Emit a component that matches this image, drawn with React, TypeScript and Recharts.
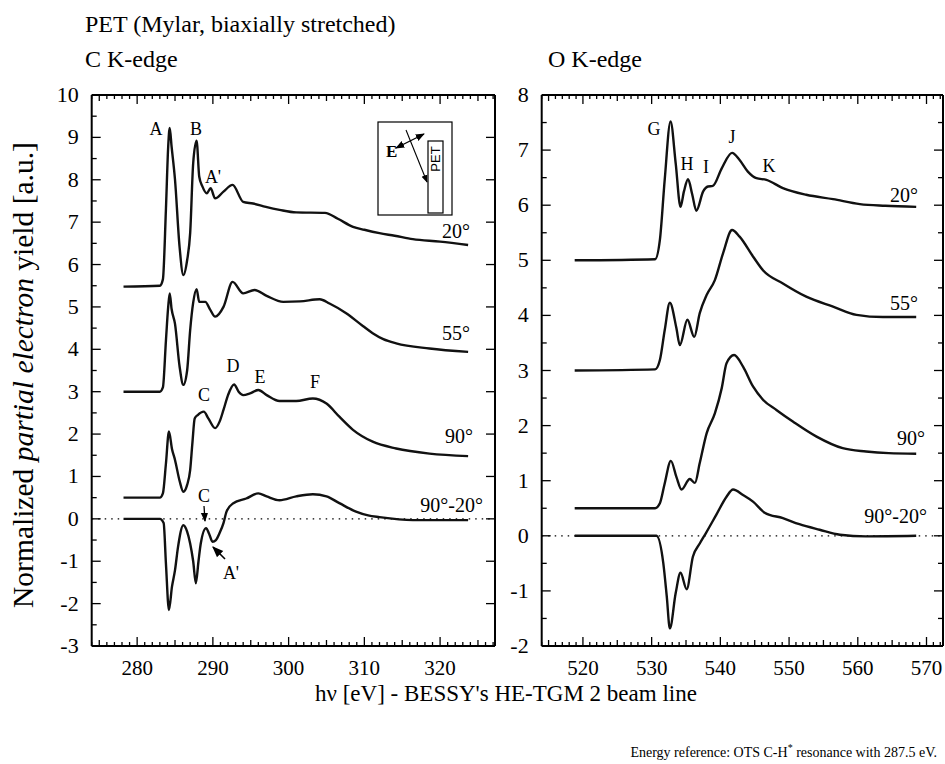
import React from 'react';
import { Line, LineChart, ReferenceLine, XAxis, YAxis } from 'recharts';

// C K-edge, photon energy [eV] and normalized yield per angle
const cE20 = [278.2, 283.0, 283.4, 283.8, 284.1, 284.3, 284.55, 285.0, 285.6, 286.1, 286.6, 287.0, 287.4, 287.85, 288.2, 288.6, 289.2, 289.7, 290.3, 291.4, 292.6, 294.0, 295.3, 297.0, 298.8, 301.0, 304.8, 306.5, 308.5, 310.0, 312.0, 314.0, 316.4, 320.0, 323.7];
const c20 = [5.48, 5.5, 5.65, 7.3, 8.78, 9.22, 8.78, 8.0, 6.42, 5.75, 6.1, 6.74, 8.39, 8.92, 8.07, 7.85, 7.68, 7.8, 7.56, 7.72, 7.88, 7.48, 7.44, 7.36, 7.29, 7.23, 7.22, 7.08, 6.89, 6.82, 6.74, 6.68, 6.6, 6.54, 6.46];

const cE55 = [278.2, 283.0, 283.4, 283.8, 284.1, 284.3, 284.55, 285.0, 285.6, 286.1, 286.6, 287.0, 287.4, 287.85, 288.2, 289.0, 289.6, 290.3, 291.4, 292.6, 294.0, 295.5, 297.1, 299.3, 301.5, 304.1, 305.4, 307.6, 309.8, 311.1, 312.5, 314.2, 318.6, 323.7];
const c55 = [3.0, 3.0, 3.1, 4.2, 5.0, 5.32, 4.95, 4.6, 3.6, 3.16, 3.5, 4.45, 5.1, 5.42, 5.12, 5.12, 4.95, 4.77, 5.0, 5.59, 5.32, 5.4, 5.26, 5.12, 5.13, 5.18, 5.08, 4.85, 4.55, 4.38, 4.24, 4.14, 4.02, 3.94];

const cE90 = [278.2, 283.0, 283.4, 283.8, 284.2, 284.6, 285.0, 285.6, 286.1, 286.6, 287.0, 287.3, 287.6, 288.0, 288.8, 289.4, 290.3, 290.9, 291.4, 292.0, 292.8, 293.4, 294.0, 294.9, 296.0, 297.1, 298.8, 301.0, 303.2, 305.0, 306.7, 308.5, 311.1, 314.2, 318.6, 323.7];
const c90 = [0.5, 0.5, 0.6, 1.3, 2.06, 1.65, 1.39, 0.9, 0.64, 0.8, 1.15, 1.8, 2.37, 2.45, 2.53, 2.37, 2.14, 2.3, 2.57, 2.92, 3.17, 3.0, 2.92, 2.96, 3.04, 2.92, 2.78, 2.78, 2.84, 2.72, 2.41, 2.1, 1.82, 1.66, 1.54, 1.48];

const cEd = [278.2, 283.0, 283.5, 283.8, 284.2, 284.6, 285.0, 285.4, 286.1, 286.6, 287.0, 287.4, 287.75, 288.1, 288.4, 289.1, 289.5, 289.95, 290.4, 290.9, 291.4, 291.8, 292.7, 294.4, 296.0, 297.1, 298.8, 301.0, 303.2, 305.0, 306.7, 308.9, 310.5, 312.0, 316.4, 323.7];
const cd = [0.0, 0.0, -0.1, -1.05, -2.15, -1.6, -1.21, -0.66, -0.15, -0.3, -0.58, -1.0, -1.52, -1.0, -0.58, -0.22, -0.35, -0.54, -0.5, -0.33, -0.1, 0.17, 0.37, 0.48, 0.6, 0.53, 0.44, 0.53, 0.58, 0.53, 0.37, 0.17, 0.08, 0.04, -0.03, -0.03];

// O K-edge
const oE20 = [518.8, 530.5, 531.2, 531.9, 532.75, 533.5, 534.2, 534.7, 535.3, 535.9, 536.5, 537.5, 538.2, 538.9, 540.2, 541.7, 542.8, 544.0, 545.25, 546.7, 549.1, 552.5, 556.4, 560.3, 564.0, 568.5];
const o20 = [5.0, 5.02, 5.37, 6.46, 7.52, 6.76, 5.97, 6.25, 6.47, 6.2, 5.9, 6.25, 6.34, 6.35, 6.67, 6.95, 6.82, 6.61, 6.49, 6.46, 6.31, 6.19, 6.11, 6.02, 5.99, 5.97];

const oE55 = [518.8, 530.5, 531.2, 531.9, 532.65, 533.6, 534.1, 535.2, 536.2, 537.0, 538.0, 539.2, 540.4, 541.7, 542.8, 544.75, 546.2, 549.1, 552.5, 556.4, 559.8, 563.65, 568.5];
const o55 = [3.0, 3.02, 3.19, 3.73, 4.23, 3.77, 3.46, 3.92, 3.61, 4.04, 4.37, 4.64, 5.13, 5.55, 5.43, 5.07, 4.82, 4.58, 4.34, 4.16, 4.01, 3.97, 3.97];

const oE90 = [518.8, 530.5, 531.2, 531.9, 532.8, 533.6, 534.35, 535.55, 536.3, 537.0, 538.0, 539.2, 540.2, 540.9, 542.0, 543.3, 544.75, 546.2, 548.2, 550.6, 554.0, 557.8, 561.2, 564.5, 568.5];
const o90 = [0.5, 0.5, 0.59, 0.95, 1.36, 1.07, 0.84, 1.03, 0.96, 1.32, 1.86, 2.22, 2.68, 3.13, 3.28, 3.07, 2.71, 2.47, 2.28, 2.07, 1.8, 1.59, 1.53, 1.5, 1.49];

const oEd = [518.8, 530.7, 531.7, 532.2, 532.65, 533.5, 534.2, 535.1, 536.0, 537.0, 537.9, 539.4, 540.9, 541.85, 543.3, 544.75, 546.45, 549.1, 551.5, 554.45, 557.4, 561.2, 568.5];
const od = [0.0, 0.0, -0.5, -1.1, -1.68, -1.04, -0.67, -0.97, -0.38, -0.14, 0.05, 0.38, 0.71, 0.84, 0.74, 0.62, 0.42, 0.32, 0.21, 0.11, 0.02, -0.01, 0.0];

const cXLabels = [280, 290, 300, 310, 320];
const oXLabels = [520, 530, 540, 550, 560, 570];
const cYLabels = [-3, -2, -1, 0, 1, 2, 3, 4, 5, 6, 7, 8, 9, 10];
const oYLabels = [-2, -1, 0, 1, 2, 3, 4, 5, 6, 7, 8];

const FONT = '"Liberation Serif", "Times New Roman", serif';
const W = 945;
const H = 764;

const zip = (xs: number[], ys: number[]) => xs.map((e, i) => ({ e, v: ys[i] }));
const steps = (from: number, to: number, step: number) => {
  const out: number[] = [];
  for (let v = from; v <= to + 1e-9; v += step) out.push(Math.round(v * 10) / 10);
  return out;
};

const XTick = (props: any) => {
  const { x, y, payload, top, labels } = props;
  const v = Math.round(payload.value);
  const len = v % 10 === 0 ? 9 : v % 5 === 0 ? 6 : 4;
  const dir = top ? 1 : -1;
  return (
    <g>
      <line x1={x} x2={x} y1={y} y2={y + dir * len} stroke="#000" strokeWidth={1.3} />
      {!top && labels.includes(v) && (
        <text x={x} y={y + 29} textAnchor="middle" fontSize={21} fontFamily={FONT} fill="#000">
          {v}
        </text>
      )}
    </g>
  );
};

const YTick = (props: any) => {
  const { x, y, payload, right, labels } = props;
  const v = payload.value;
  const whole = Math.abs(v - Math.round(v)) < 1e-6;
  const len = whole ? 9 : 5;
  const dir = right ? -1 : 1;
  return (
    <g>
      <line x1={x} x2={x + dir * len} y1={y} y2={y} stroke="#000" strokeWidth={1.3} />
      {!right && whole && labels.includes(Math.round(v)) && (
        <text x={x - 13} y={y + 7} textAnchor="end" fontSize={22} fontFamily={FONT} fill="#000">
          {Math.round(v)}
        </text>
      )}
    </g>
  );
};

interface PanelProps {
  series: Array<{ e: number; v: number }[]>;
  xDomain: [number, number];
  yDomain: [number, number];
  xLabels: number[];
  yLabels: number[];
  rightStep: number;
  box: { top: number; left: number; right: number; bottom: number };
}

const Panel = ({ series, xDomain, yDomain, xLabels, yLabels, rightStep, box }: PanelProps) => {
  const xTicks = steps(Math.ceil(xDomain[0]), Math.floor(xDomain[1]), 1);
  const yLeft = steps(yDomain[0], yDomain[1], 0.5);
  const yRight = steps(yDomain[0], yDomain[1], rightStep);
  const axis = { stroke: '#000', strokeWidth: 2 };
  // every axis is 1px thick, so the margins are one pixel short of the plot box
  const margin = { top: box.top - 1, left: box.left - 1, right: W - box.right - 1, bottom: H - box.bottom - 1 };
  return (
    <div style={{ position: 'absolute', left: 0, top: 0 }}>
      <LineChart width={W} height={H} margin={margin}>
        <XAxis xAxisId="b" dataKey="e" type="number" domain={xDomain} allowDataOverflow ticks={xTicks} interval={0}
          height={1} tickSize={0} tickMargin={0} tickLine={false} axisLine={axis}
          tick={(p: any) => <XTick {...p} labels={xLabels} />} />
        <XAxis xAxisId="t" orientation="top" dataKey="e" type="number" domain={xDomain} allowDataOverflow ticks={xTicks} interval={0}
          height={1} tickSize={0} tickMargin={0} tickLine={false} axisLine={axis}
          tick={(p: any) => <XTick {...p} top labels={xLabels} />} />
        <YAxis yAxisId="l" type="number" domain={yDomain} allowDataOverflow ticks={yLeft} interval={0}
          width={1} tickSize={0} tickMargin={0} tickLine={false} axisLine={axis}
          tick={(p: any) => <YTick {...p} labels={yLabels} />} />
        <YAxis yAxisId="r" orientation="right" type="number" domain={yDomain} allowDataOverflow ticks={yRight} interval={0}
          width={1} tickSize={0} tickMargin={0} tickLine={false} axisLine={axis}
          tick={(p: any) => <YTick {...p} right labels={yLabels} />} />
        <ReferenceLine xAxisId="b" yAxisId="l" y={0} stroke="#000" strokeWidth={1.2} strokeDasharray="1.5 5" />
        {series.map((d, i) => (
          <Line key={i} xAxisId="b" yAxisId="l" data={d} dataKey="v" type="monotone" stroke="#111"
            strokeWidth={2.4} dot={false} activeDot={false} isAnimationActive={false} />
        ))}
      </LineChart>
    </div>
  );
};

const txt = { fontFamily: FONT, fill: '#000' };

const Notes = () => (
  <svg width={W} height={H} style={{ position: 'absolute', left: 0, top: 0 }}>
    <g style={txt} fontSize={24}>
      <text x={85} y={32}>PET (Mylar, biaxially stretched)</text>
      <text x={85} y={67}>C K-edge</text>
      <text x={548} y={67}>O K-edge</text>
      <text x={506} y={701} textAnchor="middle" fontSize={23}>hν [eV] - BESSY's HE-TGM 2 beam line</text>
    </g>
    <text x={937} y={757} textAnchor="end" fontSize={14} style={txt}>
      Energy reference: OTS C-H<tspan dy={-6} fontSize={10}>*</tspan><tspan dy={6}> resonance with 287.5 eV.</tspan>
    </text>
    <text transform="translate(33 375) rotate(-90)" textAnchor="middle" fontSize={29.5} style={txt}>
      Normalized <tspan fontStyle="italic">partial electron</tspan> yield  [a.u.]
    </text>
    <g style={txt} fontSize={20}>
      <text x={470} y={238} textAnchor="end">20°</text>
      <text x={470} y={340} textAnchor="end">55°</text>
      <text x={473} y={443} textAnchor="end">90°</text>
      <text x={483} y={512} textAnchor="end">90°-20°</text>
      <text x={918} y={202} textAnchor="end">20°</text>
      <text x={918} y={310} textAnchor="end">55°</text>
      <text x={925} y={445} textAnchor="end">90°</text>
      <text x={927} y={523} textAnchor="end">90°-20°</text>
    </g>
    <g style={txt} fontSize={18} textAnchor="middle">
      <text x={156} y={135}>A</text>
      <text x={196} y={135}>B</text>
      <text x={213} y={183}>A'</text>
      <text x={204} y={401}>C</text>
      <text x={233} y={372}>D</text>
      <text x={260} y={383}>E</text>
      <text x={315} y={388}>F</text>
      <text x={204} y={502}>C</text>
      <text x={231} y={579}>A'</text>
      <text x={654} y={135}>G</text>
      <text x={687} y={170}>H</text>
      <text x={706} y={173}>I</text>
      <text x={732} y={143}>J</text>
      <text x={769} y={172}>K</text>
    </g>
    <defs>
      <marker id="ah" viewBox="0 0 10 10" refX="9" refY="5" markerWidth="7" markerHeight="7" orient="auto-start-reverse">
        <path d="M0,1 L10,5 L0,9 z" fill="#000" />
      </marker>
    </defs>
    <line x1={204} y1={506} x2={205} y2={521} stroke="#000" strokeWidth={1.3} markerEnd="url(#ah)" />
    <line x1={225} y1={559} x2={213} y2={547} stroke="#000" strokeWidth={1.6} markerEnd="url(#ah)" />
    <rect x={378} y={122} width={74} height={93} fill="none" stroke="#000" strokeWidth={1.2} />
    <text x={386} y={157} fontSize={17} fontWeight="bold" style={txt}>E</text>
    <line x1={396} y1={148} x2={424} y2={134} stroke="#000" strokeWidth={1.3} markerStart="url(#ah)" markerEnd="url(#ah)" />
    <line x1={406} y1={130} x2={427} y2={182} stroke="#000" strokeWidth={1.1} markerEnd="url(#ah)" />
    <rect x={428} y={141} width={15} height={72} fill="#fff" stroke="#000" strokeWidth={1.2} />
    <text transform="translate(440 159) rotate(-90)" textAnchor="middle" fontSize={13} fontFamily="Liberation Sans, Arial" fill="#000">PET</text>
  </svg>
);

const App = () => {
  const cSeries = [zip(cE20, c20), zip(cE55, c55), zip(cE90, c90), zip(cEd, cd)];
  const oSeries = [zip(oE20, o20), zip(oE55, o55), zip(oE90, o90), zip(oEd, od)];
  return (
    <div style={{ position: 'absolute', left: 0, top: 0, width: W, height: H, background: '#fff' }}>
      <Panel series={cSeries} xDomain={[274, 327.25]} yDomain={[-3, 10]} xLabels={cXLabels} yLabels={cYLabels}
        rightStep={1} box={{ top: 95, left: 91.7, right: 495, bottom: 646 }} />
      <Panel series={oSeries} xDomain={[514, 572.4]} yDomain={[-2, 8]} xLabels={oXLabels} yLabels={oYLabels}
        rightStep={0.5} box={{ top: 95, left: 541.7, right: 943, bottom: 646 }} />
      <Notes />
    </div>
  );
};

export default App;
